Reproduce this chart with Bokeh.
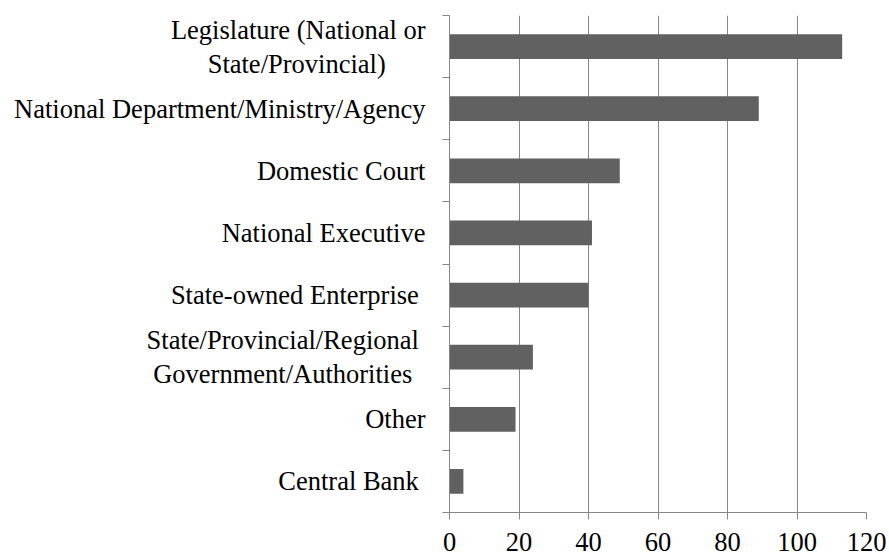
from bokeh.plotting import figure
from bokeh.models import Range1d, FixedTicker
from bokeh.embed import file_html
from bokeh.resources import INLINE

NB = "\u00a0"
# Categories listed top to bottom
categories = [
    "Legislature (National or\nState/Provincial)" + NB * 6,
    "National Department/Ministry/Agency",
    "Domestic Court",
    "National Executive",
    "State-owned Enterprise" + NB,
    "State/Provincial/Regional" + NB + "\nGovernment/Authorities" + NB * 2,
    "Other",
    "Central Bank" + NB,
]
values = [113, 89, 49, 41, 40, 24, 19, 4]
x_ticks = [0, 20, 40, 60, 80, 100, 120]

n = len(categories)
ypos = [n - 0.5 - i for i in range(n)]
boundaries = list(range(n + 1))

FONT = "'Liberation Serif', 'Times New Roman', serif"
GRAY = "#868686"
FS = "26.5px"

p = figure(width=889, height=556,
           x_range=Range1d(0, 120), y_range=Range1d(0, n),
           output_backend="svg", toolbar_location=None,
           min_border_left=449, min_border_right=23,
           min_border_top=15, min_border_bottom=44)
p.outline_line_color = None
p.background_fill_color = "white"
p.border_fill_color = "white"

p.hbar(y=ypos, left=0, right=values, height=0.4,
       fill_color="#616161", line_color=None)

# x axis
xa = p.xaxis[0]
xa.ticker = FixedTicker(ticks=x_ticks)
xa.axis_line_color = GRAY
xa.major_tick_line_color = GRAY
xa.major_tick_out = 7
xa.major_tick_in = 0
xa.minor_tick_line_color = None
xa.major_label_text_font = FONT
xa.major_label_text_font_size = FS
xa.major_label_text_color = "black"
xa.major_label_standoff = 13

# y axis: labels at category centers, tick marks at category boundaries
ya = p.yaxis[0]
ya.ticker = FixedTicker(ticks=ypos, minor_ticks=boundaries)
ya.major_label_overrides = {y: c for y, c in zip(ypos, categories)}
ya.axis_line_color = GRAY
ya.major_tick_line_color = None
ya.major_tick_out = 0
ya.major_tick_in = 0
ya.minor_tick_line_color = GRAY
ya.minor_tick_out = 7
ya.minor_tick_in = 0
ya.major_label_text_font = FONT
ya.major_label_text_font_size = FS
ya.major_label_text_color = "black"
ya.major_label_text_line_height = 1.13
ya.major_label_standoff = 17

p.xgrid.ticker = FixedTicker(ticks=x_ticks)
p.xgrid.grid_line_color = GRAY
p.xgrid.grid_line_width = 1
p.ygrid.grid_line_color = None

open("out.html", "w").write(file_html(p, INLINE))
